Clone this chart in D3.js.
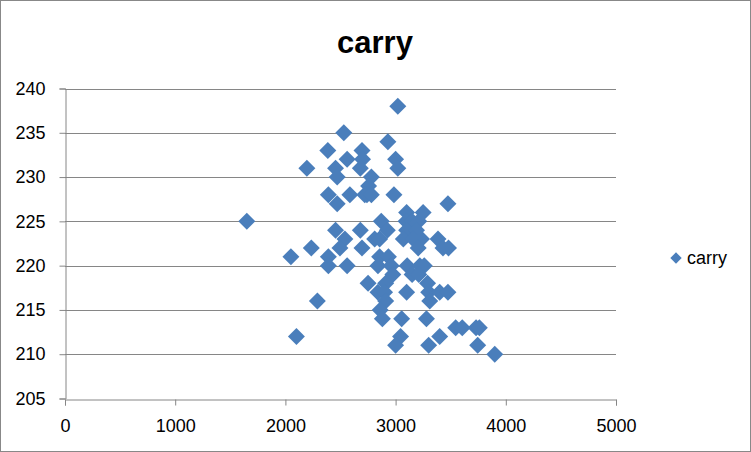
<!DOCTYPE html>
<html>
<head>
<meta charset="utf-8">
<script src="https://cdn.jsdelivr.net/npm/d3@7"></script>
<style>
  html, body { margin: 0; padding: 0; background: #fff; }
  svg { display: block; }
</style>
</head>
<body>
<svg id="chart" width="751" height="452"></svg>
<script>
const title = "carry";
const seriesName = "carry";
const xTicks = [0, 1000, 2000, 3000, 4000, 5000];
const yTicks = [205, 210, 215, 220, 225, 230, 235, 240];
const xValues = [
  3020, 2530, 2930, 2385, 2695, 2560, 2700, 3000,
  2195, 2455, 2680, 3020, 2470, 2780, 2755, 2740,
  2390, 2585, 2720, 2780, 2985,
  2470, 3475,
  3100, 3250,
  1650, 2870, 3095, 3150, 3210,
  2455, 2680, 2925, 3100, 3190,
  2540, 2810, 2855, 3070, 3160, 3235, 3385,
  2235, 2495, 2695, 3205, 3430, 3480,
  2050, 2390, 2855, 2935,
  2390, 2560, 2840, 3105, 3220, 3260, 2960,
  2975, 3150, 3210,
  2750, 2910, 3290,
  2840, 2900, 3100, 3300, 3400, 3475,
  2290, 2910, 3310,
  2860,
  2880, 3055, 3280,
  3545, 3605, 3730, 3760,
  2100, 3045, 3400,
  3000, 3300, 3745,
  3900
];
const yValues = [
  238, 235, 234, 233, 233, 232, 232, 232,
  231, 231, 231, 231, 230, 230, 229, 228,
  228, 228, 228, 228, 228,
  227, 227,
  226, 226,
  225, 225, 225, 225, 225,
  224, 224, 224, 224, 224,
  223, 223, 223, 223, 223, 223, 223,
  222, 222, 222, 222, 222, 222,
  221, 221, 221, 221,
  220, 220, 220, 220, 220, 220, 220,
  219, 219, 219,
  218, 218, 218,
  217, 217, 217, 217, 217, 217,
  216, 216, 216,
  215,
  214, 214, 214,
  213, 213, 213, 213,
  212, 212, 212,
  211, 211, 211,
  210
];

const color = "#4a7ebb";
const gridColor = "#868686";
const font = "'Liberation Sans', Arial, sans-serif";

const svg = d3.select("#chart");

// outer border
svg.append("rect")
  .attr("x", 0.5).attr("y", 0.5)
  .attr("width", 750).attr("height", 451)
  .attr("fill", "#fff").attr("stroke", "#888").attr("stroke-width", 1);

const x = d3.scaleLinear().domain([0, 5000]).range([65, 616]);
const y = d3.scaleLinear().domain([205, 240]).range([398.5, 88.5]);

// gridlines
svg.append("g").selectAll("line")
  .data(yTicks.filter(t => t !== 205))
  .join("line")
  .attr("x1", x(0)).attr("x2", x(5000))
  .attr("y1", d => Math.round(y(d)) + 0.5).attr("y2", d => Math.round(y(d)) + 0.5)
  .attr("stroke", gridColor).attr("stroke-width", 1);

// y axis
const yAxis = d3.axisLeft(y).tickValues(yTicks).tickSize(6).tickPadding(14).tickFormat(d3.format("d"));
const gy = svg.append("g").attr("transform", `translate(${Math.round(x(0)) + 0.5},0)`).call(yAxis);
gy.select(".domain").attr("stroke", gridColor);
gy.selectAll(".tick line").attr("stroke", gridColor);
gy.selectAll(".tick text").attr("font-family", font).attr("font-size", 18).attr("fill", "#000");

// x axis
const xAxis = d3.axisBottom(x).tickValues(xTicks).tickSize(6).tickPadding(14).tickFormat(d3.format("d"));
const gx = svg.append("g").attr("transform", `translate(0,${Math.round(y(205)) + 0.5})`).call(xAxis);
gx.select(".domain").attr("stroke", gridColor);
gx.selectAll(".tick line").attr("stroke", gridColor);
gx.selectAll(".tick text").attr("font-family", font).attr("font-size", 18).attr("fill", "#000");

// points
const data = xValues.map((v, i) => ({ x: v, y: yValues[i] }));
const diamond = d3.symbol().type(d3.symbolSquare).size(144);
svg.append("g").selectAll("path")
  .data(data)
  .join("path")
  .attr("d", diamond)
  .attr("transform", d => `translate(${x(d.x)},${y(d.y)}) rotate(45)`)
  .attr("fill", color);

// title
svg.append("text")
  .attr("x", 375).attr("y", 53)
  .attr("text-anchor", "middle")
  .attr("font-family", font).attr("font-weight", "bold").attr("font-size", 31)
  .attr("fill", "#000")
  .text(title);

// legend
const lg = svg.append("g").attr("transform", "translate(676,258)");
lg.append("path")
  .attr("d", d3.symbol().type(d3.symbolSquare).size(64))
  .attr("transform", "rotate(45)")
  .attr("fill", color);
lg.append("text")
  .attr("x", 11).attr("y", 6)
  .attr("font-family", font).attr("font-size", 18).attr("fill", "#000")
  .text(seriesName);
</script>
</body>
</html>
